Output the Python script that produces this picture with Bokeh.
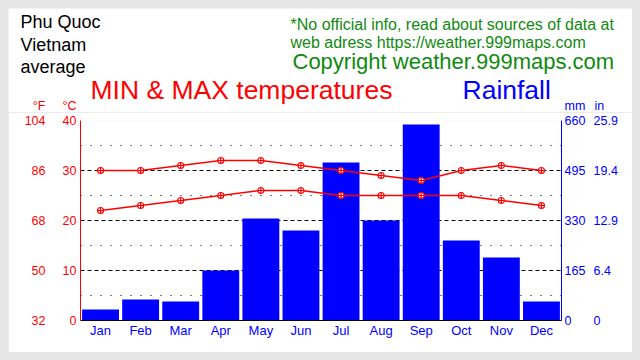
from bokeh.plotting import figure
from bokeh.models import Range1d, LinearAxis, FixedTicker, Grid
from bokeh.layouts import column, row
from bokeh.core.properties import value
from bokeh.embed import file_html
from bokeh.resources import INLINE

# ---- data ----
months = ["Jan", "Feb", "Mar", "Apr", "May", "Jun", "Jul", "Aug", "Sep", "Oct", "Nov", "Dec"]
month_idx = list(range(1, 13))
tmax_c = [30, 30, 31, 32, 32, 31, 30, 29, 28, 30, 31, 30]
tmin_c = [22, 23, 24, 25, 26, 26, 25, 25, 25, 25, 24, 23]
rain_mm = [36, 69, 63, 165, 337, 297, 521, 330, 647, 264, 208, 63]
c_ticks = [0, 10, 20, 30, 40]
f_labels = ["32", "50", "68", "86", "104"]
mm_ticks = [0, 165, 330, 495, 660]
in_labels = ["0", "6.4", "12.9", "19.4", "25.9"]

FONT = "Liberation Sans"
RED = "#ff0000"
BLUE = "#0000ff"
GREEN = "#108a10"
GRAY = "#e6e6e6"

# ---------------- header figure (texts) ----------------
HW, HH = 624, 104          # page x 8..632, y 8..112
head = figure(width=HW, height=HH, x_range=Range1d(8, 8 + HW), y_range=Range1d(8 + HH, 8),
              output_backend="svg", toolbar_location=None,
              x_axis_type=None, y_axis_type=None,
              min_border_left=0, min_border_right=0, min_border_top=0, min_border_bottom=0)
head.outline_line_color = None
head.background_fill_color = "white"
head.border_fill_color = "white"
head.xgrid.visible = False
head.ygrid.visible = False

def add_text(txt, px, py, size, color, align="left"):
    # empirical correction of the rendered baseline (about 0.4 em too low)
    shift = 0.4 * size
    head.text(x=[px], y=[py - shift], text=[txt], text_font=value(FONT),
              text_font_size="%gpx" % size,
              text_color=color, text_align=align, text_baseline="alphabetic")

add_text("Phu Quoc", 20, 29, 18, "black")
add_text("Vietnam", 20, 52, 18, "black")
add_text("average", 20, 74, 18, "black")
add_text("*No official info, read about sources of data at", 290, 30, 16, GREEN)
add_text("web adress https://weather.999maps.com", 290, 48, 16, GREEN)
add_text("Copyright weather.999maps.com", 292, 70, 22, GREEN)
add_text("MIN & MAX temperatures", 90, 100, 26.5, RED)
add_text("Rainfall", 462, 100, 26.5, BLUE)
add_text("°F", 45, 110, 12.5, RED, "right")
add_text("°C", 76, 110, 12.5, RED, "right")
add_text("mm", 564, 110, 12.5, BLUE)
add_text("in", 594, 110, 12.5, BLUE)

# ---------------- main chart ----------------
W, H = 624, 240
BL, BR, BT, BB = 72, 71, 8, 32
p = figure(width=W, height=H, x_range=Range1d(0.5, 12.5), y_range=Range1d(0, 40),
           output_backend="svg", toolbar_location=None,
           x_axis_type=None, y_axis_type=None,
           min_border_left=BL, min_border_right=BR, min_border_top=BT, min_border_bottom=BB)
p.extra_y_ranges = {"rain": Range1d(0, 660)}
p.outline_line_color = None
p.background_fill_color = "white"
p.border_fill_color = "white"

# grids
p.add_layout(Grid(dimension=1, ticker=FixedTicker(ticks=[5, 15, 25, 35]),
                  grid_line_color="black", grid_line_dash="1 9", grid_line_width=1))
p.add_layout(Grid(dimension=1, ticker=FixedTicker(ticks=[10, 20, 30, 40]),
                  grid_line_color="black", grid_line_dash="4 3", grid_line_width=1))

# bars
p.vbar(x=month_idx, top=rain_mm, width=0.92, y_range_name="rain",
       fill_color=BLUE, line_color=None)

# temperature lines
p.line(month_idx, tmax_c, line_color=RED, line_width=1.5)
p.line(month_idx, tmin_c, line_color=RED, line_width=1.5)
p.scatter(month_idx, tmax_c, marker="circle_cross", size=6, line_color=RED,
          fill_color="white", line_width=1.2)
p.scatter(month_idx, tmin_c, marker="circle_cross", size=6, line_color=RED,
          fill_color="white", line_width=1.2)

def style_axis(ax, color, line_color, standoff, size="12.5px"):
    ax.major_tick_out = 0
    ax.major_tick_in = 0
    ax.minor_tick_out = 0
    ax.minor_tick_in = 0
    ax.axis_line_color = line_color
    ax.major_label_text_color = color
    ax.major_label_text_font = FONT
    ax.major_label_text_font_size = size
    ax.major_label_standoff = standoff

# left axes
ax_c = LinearAxis(ticker=FixedTicker(ticks=c_ticks))
style_axis(ax_c, RED, RED, 4)
p.add_layout(ax_c, "left")
ax_f = LinearAxis(ticker=FixedTicker(ticks=c_ticks),
                  major_label_overrides={t: l for t, l in zip(c_ticks, f_labels)})
style_axis(ax_f, RED, None, 14)
p.add_layout(ax_f, "left")

# right axes
ax_mm = LinearAxis(y_range_name="rain", ticker=FixedTicker(ticks=mm_ticks))
style_axis(ax_mm, BLUE, BLUE, 3)
p.add_layout(ax_mm, "right")
ax_in = LinearAxis(y_range_name="rain", ticker=FixedTicker(ticks=mm_ticks),
                   major_label_overrides={t: l for t, l in zip(mm_ticks, in_labels)})
style_axis(ax_in, BLUE, None, 5)
p.add_layout(ax_in, "right")

# bottom axis
ax_x = LinearAxis(ticker=FixedTicker(ticks=month_idx),
                  major_label_overrides={i: m for i, m in zip(month_idx, months)})
style_axis(ax_x, BLUE, "black", 2, size="13px")
p.add_layout(ax_x, "below")

layout = column(row(head, spacing=0), row(p, spacing=0), spacing=0,
                styles={"background-color": GRAY, "padding": "8px"})

open("out.html", "w").write(file_html(layout, INLINE))
